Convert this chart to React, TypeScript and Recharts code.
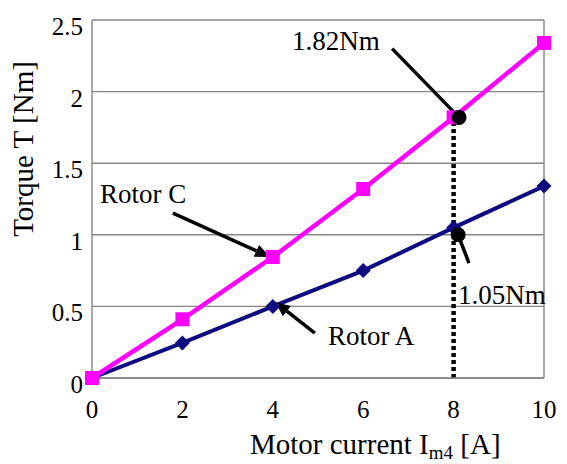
import React from "react";
import {
  LineChart,
  Line,
  XAxis,
  YAxis,
  CartesianGrid,
  ReferenceLine,
  ReferenceDot,
} from "recharts";

// motor current [A] and torque [Nm]
const current = [0, 2, 4, 6, 8, 10];
const rotorC = [0, 0.41, 0.845, 1.32, 1.82, 2.34];
const rotorA = [0, 0.245, 0.5, 0.75, 1.05, 1.34];

const xTicks = [0, 2, 4, 6, 8, 10];
const yTicks = [0, 0.5, 1, 1.5, 2, 2.5];

// annotation points (data coords)
const markX = 8;
const dotC = { x: 8.12, y: 1.82 };
const dotA = { x: 8.1, y: 1.0 };

const data = current.map((c, i) => ({ current: c, rotorC: rotorC[i], rotorA: rotorA[i] }));

const MAGENTA = "#ff00ff";
const NAVY = "#0c0c80";
const GRID = "#858585";
const FONT = "Liberation Serif";

const Square = (p: any) => {
  const { cx, cy } = p;
  if (cx == null || cy == null) return null;
  return <rect x={cx - 7} y={cy - 7} width={14} height={14} fill={MAGENTA} />;
};

const Diamond = (p: any) => {
  const { cx, cy } = p;
  if (cx == null || cy == null) return null;
  const r = 7.5;
  return (
    <polygon
      points={`${cx},${cy - r} ${cx + r},${cy} ${cx},${cy + r} ${cx - r},${cy}`}
      fill={NAVY}
    />
  );
};

// line with optional filled arrow head at the end
const arrow = (head: boolean) => (p: any) => {
  const { x1, y1, x2, y2 } = p;
  if ([x1, y1, x2, y2].some((v) => v == null || isNaN(v))) return null;
  const ang = Math.atan2(y2 - y1, x2 - x1);
  const len = 15;
  const w = 6.5;
  const bx = x2 - len * Math.cos(ang);
  const by = y2 - len * Math.sin(ang);
  const px = -Math.sin(ang) * w;
  const py = Math.cos(ang) * w;
  return (
    <g>
      <line
        x1={x1}
        y1={y1}
        x2={head ? bx : x2}
        y2={head ? by : y2}
        stroke="#000"
        strokeWidth={3.5}
      />
      {head && (
        <polygon
          points={`${x2},${y2} ${bx + px},${by + py} ${bx - px},${by - py}`}
          fill="#000"
        />
      )}
    </g>
  );
};

const XTick = (p: any) => {
  const { x, y, payload } = p;
  return (
    <text x={x} y={y + 40} textAnchor="middle" fontSize={25} fontFamily={FONT} fill="#000">
      {payload.value}
    </text>
  );
};

const YTick = (p: any) => {
  const { x, y, payload } = p;
  return (
    <text x={x} y={y + 15} textAnchor="end" fontSize={25} fontFamily={FONT} fill="#000">
      {payload.value}
    </text>
  );
};

const Note = ({ x, y, size = 27, children }: any) => (
  <text x={x} y={y} fontSize={size} fontFamily={FONT} fill="#000">
    {children}
  </text>
);

export default function App() {
  return (
    <div style={{ position: "absolute", left: 0, top: 0, width: 567, height: 464, background: "#fff" }}>
      <LineChart width={567} height={464} data={data} margin={{ top: 20, right: 23, bottom: 0, left: 0 }}>
        <CartesianGrid vertical={false} stroke={GRID} strokeWidth={1.4} />
        <XAxis
          dataKey="current"
          type="number"
          domain={[0, 10]}
          ticks={xTicks}
          height={86}
          tickSize={0}
          tickMargin={0}
          tickLine={false}
          stroke={GRID}
          strokeWidth={1.4}
          tick={XTick}
        />
        <YAxis
          type="number"
          domain={[0, 2.5]}
          ticks={yTicks}
          width={92}
          tickSize={0}
          tickMargin={9}
          tickLine={false}
          stroke={GRID}
          strokeWidth={1.4}
          tick={YTick}
        />
        <ReferenceLine x={10} stroke={GRID} strokeWidth={1.4} />
        <Line
          dataKey="rotorA"
          stroke={NAVY}
          strokeWidth={4}
          dot={Diamond}
          isAnimationActive={false}
        />
        <Line
          dataKey="rotorC"
          stroke={MAGENTA}
          strokeWidth={4.5}
          dot={Square}
          isAnimationActive={false}
        />
        <ReferenceLine
          segment={[{ x: markX, y: 0 }, { x: markX, y: dotC.y }]}
          stroke="#000"
          strokeWidth={4.5}
          strokeDasharray="4 3"
        />
        <ReferenceLine segment={[{ x: 6.64, y: 2.3 }, { x: dotC.x, y: dotC.y }]} shape={arrow(false)} />
        <ReferenceLine segment={[{ x: 1.79, y: 1.152 }, { x: 3.94, y: 0.845 }]} shape={arrow(true)} />
        <ReferenceLine segment={[{ x: 4.93, y: 0.314 }, { x: 4.05, y: 0.531 }]} shape={arrow(true)} />
        <ReferenceLine segment={[{ x: dotA.x, y: dotA.y }, { x: 8.34, y: 0.803 }]} shape={arrow(false)} />
        <ReferenceDot x={dotC.x} y={dotC.y} r={7.5} fill="#000" stroke="none" />
        <ReferenceDot x={dotA.x} y={dotA.y} r={7.5} fill="#000" stroke="none" />
      </LineChart>
      <svg
        width={567}
        height={464}
        style={{ position: "absolute", left: 0, top: 0, pointerEvents: "none" }}
      >
        <Note x={292} y={50}>1.82Nm</Note>
        <Note x={100} y={203}>Rotor C</Note>
        <Note x={328} y={345}>Rotor A</Note>
        <Note x={458} y={304}>1.05Nm</Note>
        <Note x={250} y={454} size={29}>
          Motor current I<tspan fontSize={19} dy={5}>m4</tspan>
          <tspan dy={-5}> [A]</tspan>
        </Note>
        <text x={33} y={149} fontSize={29} fontFamily={FONT} textAnchor="middle" transform="rotate(-90 33 149)">
          Torque T [Nm]
        </text>
      </svg>
    </div>
  );
}
